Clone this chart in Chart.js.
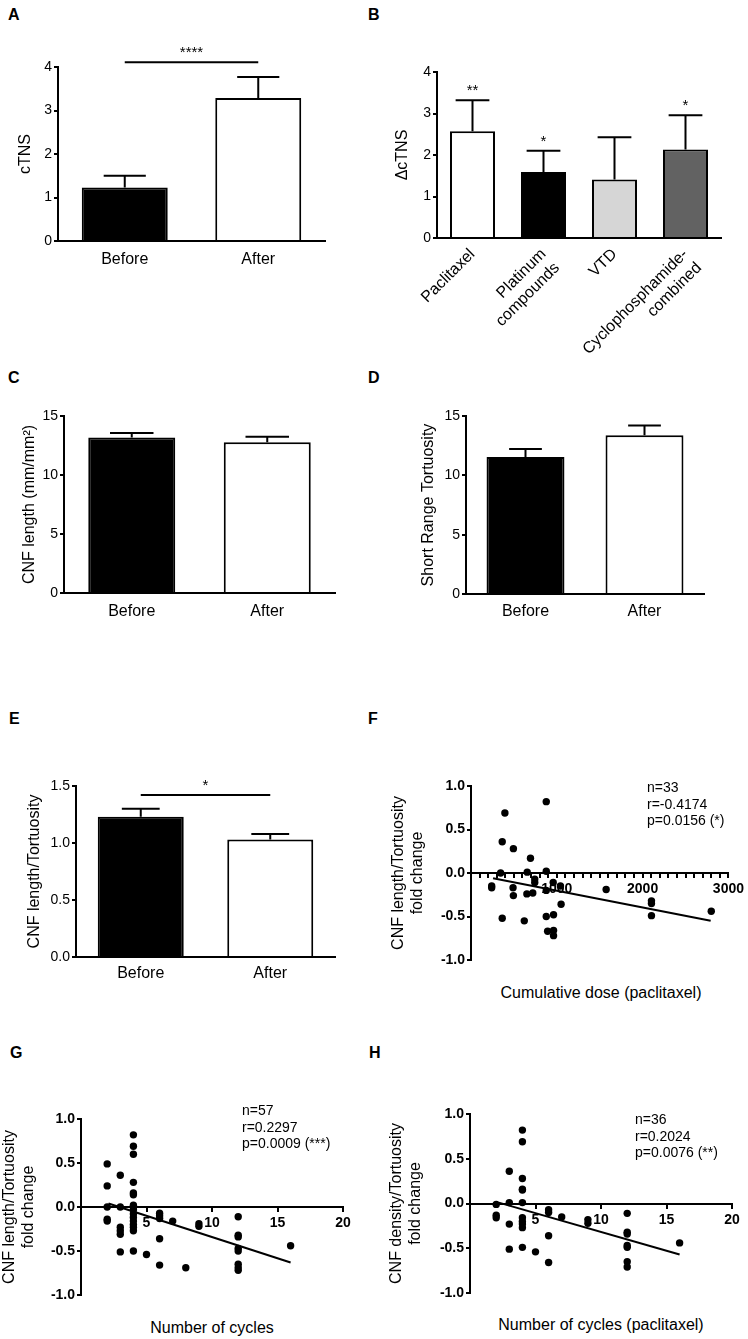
<!DOCTYPE html>
<html>
<head>
<meta charset="utf-8">
<script src="https://cdn.jsdelivr.net/npm/chart.js@4.4.1/dist/chart.umd.min.js"></script>
<style>
    body { margin: 0; background: #fff; }
    #fig { position: relative; width: 748px; height: 1339px; overflow: hidden; font-family: "Liberation Sans", Arial, sans-serif; color: #000; }
    #fig canvas { position: absolute; }
    .letter { position: absolute; font-weight: bold; font-size: 16px; line-height: 1; }
    .note { position: absolute; font-size: 14px; line-height: 16.5px; white-space: nowrap; }
    .xtitle { position: absolute; font-size: 16px; line-height: 20px; white-space: nowrap; transform: translate(-50%, -50%); }
</style>
</head>
<body>
<div id="fig">
    <canvas id="chartA"></canvas>
    <canvas id="chartB"></canvas>
    <canvas id="chartC"></canvas>
    <canvas id="chartD"></canvas>
    <canvas id="chartE"></canvas>
    <canvas id="chartF"></canvas>
    <canvas id="chartG"></canvas>
    <canvas id="chartH"></canvas>

    <div class="letter" style="left:8px;top:7px">A</div>
    <div class="letter" style="left:368px;top:7px">B</div>
    <div class="letter" style="left:8px;top:370px">C</div>
    <div class="letter" style="left:368px;top:370px">D</div>
    <div class="letter" style="left:9px;top:711px">E</div>
    <div class="letter" style="left:368px;top:711px">F</div>
    <div class="letter" style="left:10px;top:1045px">G</div>
    <div class="letter" style="left:369px;top:1045px">H</div>

    <div class="note" style="left:647px;top:779px">n=33<br>r=-0.4174<br>p=0.0156 (*)</div>
    <div class="note" style="left:242px;top:1102px">n=57<br>r=0.2297<br>p=0.0009 (***)</div>
    <div class="note" style="left:635px;top:1111px">n=36<br>r=0.2024<br>p=0.0076 (**)</div>

    <div class="xtitle" style="left:601px;top:993px">Cumulative dose (paclitaxel)</div>
    <div class="xtitle" style="left:212px;top:1328px">Number of cycles</div>
    <div class="xtitle" style="left:601px;top:1325px">Number of cycles (paclitaxel)</div>
</div>

<script>
// ---- data ----
const beforeAfter = ['Before', 'After'];

// A: cTNS before / after (mean, top of SEM bar)
const cTNS = [1.23, 3.29];
const cTNSTop = [1.50, 3.77];

// B: change in cTNS per drug group
const drugs = ['Paclitaxel', ['Platinum', 'compounds'], 'VTD', ['Cyclophosphamide-', 'combined']];
const dcTNS = [2.57, 1.59, 1.41, 2.13];
const dcTNSTop = [3.32, 2.10, 2.43, 2.96];
const drugStars = ['**', '*', '', '*'];

// C: CNF length
const cnfLength = [13.17, 12.77];
const cnfLengthTop = [13.56, 13.25];

// D: short range tortuosity
const tortuosity = [11.55, 13.37];
const tortuosityTop = [12.22, 14.19];

// E: CNF length / tortuosity
const lengthRatio = [1.23, 1.03];
const lengthRatioTop = [1.30, 1.08];

// F: cumulative dose vs fold change
const doseF = [877, 395, 364, 494, 693, 345, 655, 877, 743, 743, 241, 241, 490, 958, 1042, 1575,
    877, 494, 651, 720, 1050, 364, 621, 877, 962, 893, 962, 962, 2103, 2103, 2103, 2800];
const changeF = [0.82, 0.69, 0.36, 0.28, 0.17, 0.00, 0.01, 0.02, -0.07, -0.11, -0.15, -0.17, -0.17, -0.11, -0.15, -0.19,
    -0.20, -0.26, -0.24, -0.23, -0.36, -0.52, -0.55, -0.50, -0.48, -0.67, -0.66, -0.72, -0.32, -0.35, -0.49, -0.44];
const fitFx = [257, 2793];
const fitFy = [-0.06, -0.55];

// G: number of cycles vs fold change
const cyclesG = [2, 2, 2, 2, 2,
    3, 3, 3, 3, 3, 3,
    4, 4, 4, 4, 4, 4, 4, 4, 4, 4, 4, 4, 4, 4, 4, 4,
    5, 6, 6, 6, 6, 6, 7, 8, 9, 9,
    12, 12, 12, 12, 12, 12, 12, 12, 16];
const changeG = [0.49, 0.24, 0.00, -0.14, -0.16,
    0.36, 0.00, -0.23, -0.27, -0.31, -0.51,
    0.82, 0.69, 0.60, 0.28, 0.16, 0.14, 0.02, 0.00, -0.03, -0.08, -0.12, -0.16, -0.20, -0.23, -0.27, -0.50,
    -0.54, -0.07, -0.10, -0.13, -0.36, -0.66, -0.16, -0.69, -0.19, -0.22,
    -0.11, -0.32, -0.34, -0.47, -0.50, -0.65, -0.69, -0.72, -0.44];
const fitGx = [2.1, 16];
const fitGy = [0.04, -0.63];

// H: number of paclitaxel cycles vs fold change
const cyclesH = [2, 2, 2,
    3, 3, 3, 3,
    4, 4, 4, 4, 4, 4, 4, 4, 4, 4, 4,
    5, 6, 6, 6, 6, 7, 9, 9,
    12, 12, 12, 12, 12, 12, 12, 16];
const changeH = [-0.01, -0.13, -0.16,
    0.36, 0.01, -0.23, -0.51,
    0.82, 0.69, 0.28, 0.16, 0.15, 0.01, -0.16, -0.20, -0.23, -0.27, -0.49,
    -0.54, -0.07, -0.10, -0.36, -0.66, -0.15, -0.18, -0.22,
    -0.11, -0.32, -0.34, -0.47, -0.49, -0.65, -0.71, -0.44];
const fitHx = [2.2, 16];
const fitHy = [0.01, -0.57];

// ---- setup ----
const FONT = '"Liberation Sans", Arial, sans-serif';
Chart.defaults.font.family = FONT;
Chart.defaults.color = '#000';

const axisBorder = { display: true, color: '#000', width: 2 };
const yGrid = { display: true, drawOnChartArea: false, drawTicks: true, tickLength: 4, color: '#000', lineWidth: 2 };

function place(id, box) {
    const cv = document.getElementById(id);
    cv.width = box.w;
    cv.height = box.h;
    cv.style.left = box.x + 'px';
    cv.style.top = box.y + 'px';
    return cv;
}

// SEM bars, significance stars and brackets drawn from the bar scale
const errorBars = {
    id: 'errorBars',
    afterDatasetsDraw(chart, args, opts) {
        const ctx = chart.ctx;
        const ys = chart.scales.y;
        const bars = chart.getDatasetMeta(0).data;
        ctx.save();
        ctx.strokeStyle = '#000';
        ctx.fillStyle = '#000';
        ctx.lineWidth = 2;
        ctx.font = '15px ' + FONT;
        ctx.textAlign = 'center';
        ctx.textBaseline = 'alphabetic';
        bars.forEach((bar, i) => {
            const top = ys.getPixelForValue(opts.tops[i]);
            const half = bar.width * opts.cap / 2;
            ctx.beginPath();
            ctx.moveTo(bar.x, bar.y);
            ctx.lineTo(bar.x, top);
            ctx.moveTo(bar.x - half, top);
            ctx.lineTo(bar.x + half, top);
            ctx.stroke();
            if (opts.stars && opts.stars[i]) ctx.fillText(opts.stars[i], bar.x, top - 5);
        });
        if (opts.bracket) {
            const b = opts.bracket;
            const y = ys.getPixelForValue(b.value);
            ctx.beginPath();
            ctx.moveTo(bars[b.from].x, y);
            ctx.lineTo(bars[b.to].x, y);
            ctx.stroke();
            ctx.fillText(b.label, (bars[b.from].x + bars[b.to].x) / 2, y - 5);
        }
        ctx.restore();
    }
};

function barChart(id, box, area, o) {
    return new Chart(place(id, box), {
        type: 'bar',
        data: {
            labels: o.labels,
            datasets: [{
                data: o.values,
                backgroundColor: o.colors,
                borderColor: '#000',
                borderWidth: 2,
                barPercentage: o.barPct,
                categoryPercentage: 1
            }]
        },
        options: {
            responsive: false,
            animation: false,
            events: [],
            layout: { padding: { left: 0, top: area.t - box.y, right: box.x + box.w - area.r, bottom: 0 } },
            plugins: {
                legend: { display: false },
                tooltip: { enabled: false },
                errorBars: { tops: o.tops, cap: o.cap, stars: o.stars, bracket: o.bracket }
            },
            scales: {
                x: {
                    grid: { display: false, drawTicks: false },
                    border: axisBorder,
                    ticks: {
                        font: { size: 16 },
                        padding: o.labelPad,
                        autoSkip: false,
                        minRotation: o.rotation || 0,
                        maxRotation: o.rotation || 0
                    },
                    afterFit: s => { s.height = box.y + box.h - area.b; }
                },
                y: {
                    min: 0,
                    max: o.yMax,
                    ticks: { stepSize: o.yStep, font: { size: 14 }, padding: 2, callback: o.yFmt || (v => v) },
                    grid: yGrid,
                    border: axisBorder,
                    title: { display: true, text: o.yTitle, font: { size: 16, lineHeight: 1.2 }, padding: 0 },
                    afterFit: s => { s.width = area.l - box.x; }
                }
            }
        },
        plugins: [errorBars]
    });
}

function scatterChart(id, box, area, o) {
    return new Chart(place(id, box), {
        type: 'scatter',
        data: {
            datasets: [{
                data: o.xs.map((x, i) => ({ x: x, y: o.ys[i] })),
                pointRadius: 3.7,
                backgroundColor: '#000',
                borderWidth: 0
            }, {
                type: 'line',
                data: o.fitX.map((x, i) => ({ x: x, y: o.fitY[i] })),
                borderColor: '#000',
                borderWidth: 2,
                pointRadius: 0,
                fill: false
            }]
        },
        options: {
            responsive: false,
            animation: false,
            events: [],
            layout: { padding: { left: 0, top: area.t - box.y, right: box.x + box.w - area.r, bottom: box.y + box.h - area.b } },
            plugins: { legend: { display: false }, tooltip: { enabled: false } },
            scales: {
                x: {
                    type: 'linear',
                    position: { y: 0 },
                    min: 0,
                    max: o.xMax,
                    ticks: {
                        stepSize: o.xStep,
                        autoSkip: false,
                        maxRotation: 0,
                        padding: 4,
                        font: { size: 14, weight: 'bold' },
                        callback: v => (v > 0 && Math.round(v) % o.labelEvery === 0) ? Math.round(v) : ''
                    },
                    grid: { display: true, drawOnChartArea: false, drawTicks: true, tickLength: 4, color: '#000', lineWidth: 2 },
                    border: axisBorder
                },
                y: {
                    min: -1,
                    max: 1,
                    ticks: { stepSize: 0.5, padding: 2, font: { size: 14, weight: 'bold' }, callback: v => v.toFixed(1) },
                    grid: yGrid,
                    border: axisBorder,
                    title: { display: true, text: o.yTitle, font: { size: 16, lineHeight: 1.2 }, padding: 0 },
                    afterFit: s => { s.width = area.l - box.x; }
                }
            }
        }
    });
}

// ---- panels ----
barChart('chartA', { x: 16, y: 30, w: 324, h: 260 }, { l: 58, t: 67, r: 325, b: 241 }, {
    labels: beforeAfter, values: cTNS, tops: cTNSTop, colors: ['#000', '#fff'],
    barPct: 0.644, cap: 0.49, labelPad: 9, yMax: 4, yStep: 1, yTitle: 'cTNS',
    bracket: { from: 0, to: 1, value: 4.11, label: '****' }
});

barChart('chartB', { x: 393, y: 40, w: 347, h: 340 }, { l: 437, t: 72, r: 721, b: 238 }, {
    labels: drugs, values: dcTNS, tops: dcTNSTop, colors: ['#fff', '#000', '#d6d6d6', '#626262'],
    barPct: 0.634, cap: 0.75, labelPad: 7, rotation: 45, yMax: 4, yStep: 1, yTitle: '\u0394cTNS',
    stars: drugStars
});

barChart('chartC', { x: 20, y: 400, w: 330, h: 240 }, { l: 64, t: 416, r: 335, b: 593 }, {
    labels: beforeAfter, values: cnfLength, tops: cnfLengthTop, colors: ['#000', '#fff'],
    barPct: 0.642, cap: 0.5, labelPad: 9, yMax: 15, yStep: 5, yTitle: 'CNF length (mm/mm\u00b2)'
});

barChart('chartD', { x: 419, y: 400, w: 301, h: 240 }, { l: 466, t: 416, r: 704, b: 594 }, {
    labels: beforeAfter, values: tortuosity, tops: tortuosityTop, colors: ['#000', '#fff'],
    barPct: 0.655, cap: 0.42, labelPad: 8, yMax: 15, yStep: 5, yTitle: 'Short Range Tortuosity'
});

barChart('chartE', { x: 25, y: 760, w: 325, h: 240 }, { l: 76, t: 786, r: 335, b: 957 }, {
    labels: beforeAfter, values: lengthRatio, tops: lengthRatioTop, colors: ['#000', '#fff'],
    barPct: 0.664, cap: 0.44, labelPad: 7, yMax: 1.5, yStep: 0.5, yFmt: v => v.toFixed(1),
    yTitle: 'CNF length/Tortuosity',
    bracket: { from: 0, to: 1, value: 1.42, label: '*' }
});

scatterChart('chartF', { x: 389, y: 770, w: 359, h: 207 }, { l: 471, t: 786, r: 732, b: 960 }, {
    xs: doseF, ys: changeF, fitX: fitFx, fitY: fitFy,
    xMax: 3000, xStep: 100, labelEvery: 1000,
    yTitle: ['CNF length/Tortuosity', 'fold change']
});

scatterChart('chartG', { x: 0, y: 1100, w: 360, h: 212 }, { l: 81, t: 1119, r: 343, b: 1295 }, {
    xs: cyclesG, ys: changeG, fitX: fitGx, fitY: fitGy,
    xMax: 20, xStep: 5, labelEvery: 5,
    yTitle: ['CNF length/Tortuosity', 'fold change']
});

scatterChart('chartH', { x: 387, y: 1095, w: 361, h: 215 }, { l: 470, t: 1114, r: 732, b: 1293 }, {
    xs: cyclesH, ys: changeH, fitX: fitHx, fitY: fitHy,
    xMax: 20, xStep: 5, labelEvery: 5,
    yTitle: ['CNF density/Tortuosity', 'fold change']
});
</script>
</body>
</html>
